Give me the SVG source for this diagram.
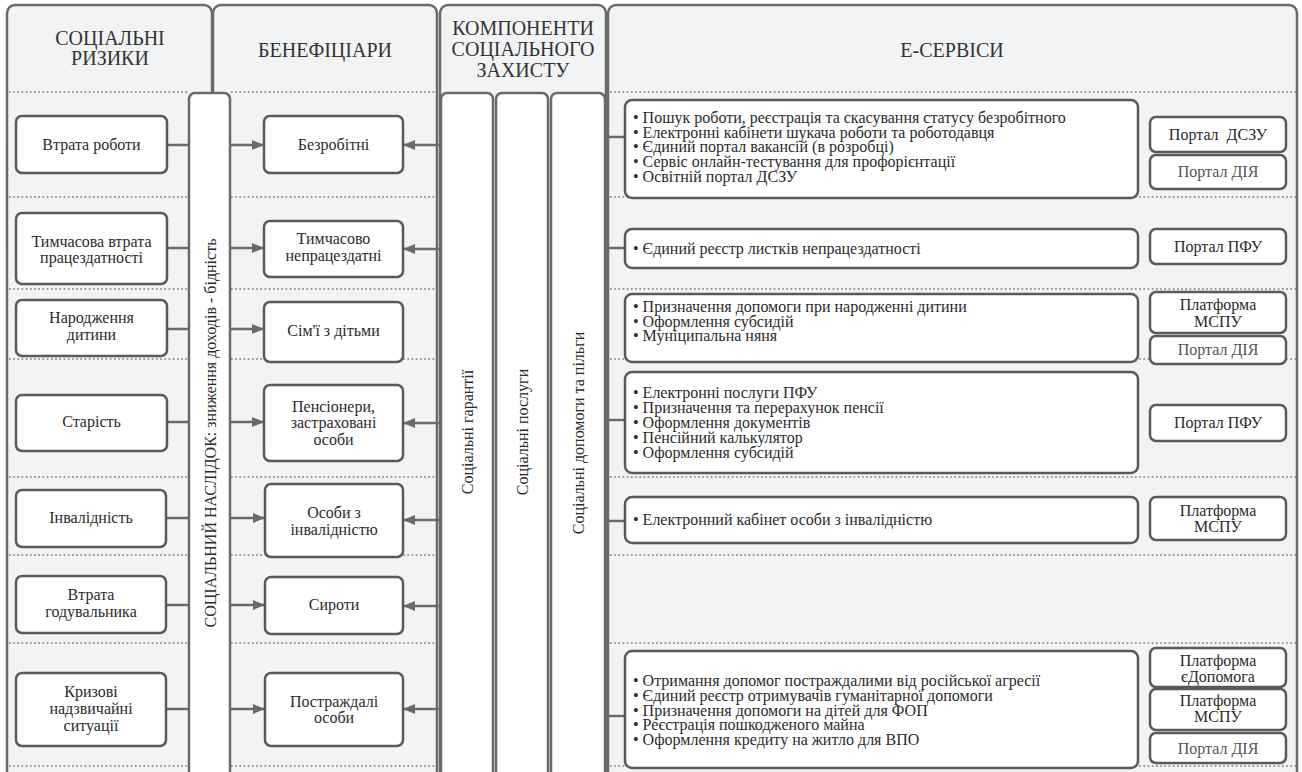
<svg xmlns="http://www.w3.org/2000/svg" width="1302" height="772" viewBox="0 0 1302 772">
<defs>
<style>
.panel{fill:#f2f3f5;stroke:#6a6a6a;stroke-width:2.5}
.box{fill:#ffffff;stroke:#5a5a5a;stroke-width:2.5}
.bar{fill:#ffffff;stroke:#6a6a6a;stroke-width:2.5}
.dot{stroke:#777777;stroke-width:1.6;stroke-dasharray:1.6 2.6;fill:none}
.conn{stroke:#6a6a6a;stroke-width:2.5;fill:none}
text{fill:#2b2b2b}
.h{font-size:20px;text-anchor:middle;fill:#333333}
.t{font-size:16px;text-anchor:middle}
.l{font-size:16px}
.dim{fill:#555555}
</style>
<marker id="arr" viewBox="0 0 12 10" refX="12" refY="5" markerWidth="12" markerHeight="10" markerUnits="userSpaceOnUse" orient="auto">
<path d="M0,0 L12,5 L0,10 z" fill="#6a6a6a"/>
</marker>
</defs>

<g id="panels">
<rect class="panel" x="7" y="5" width="205" height="800" rx="8"/>
<rect class="panel" x="213" y="5" width="224" height="800" rx="8"/>
<rect class="panel" x="440" y="5" width="166" height="800" rx="8"/>
<rect class="panel" x="608" y="5" width="689" height="800" rx="8"/>
</g>

<g id="separators">
<path class="dot" d="M9,92H189M231,92H436M610,92H1296"/>
<path class="dot" d="M9,197H189M231,197H436M610,197H1296"/>
<path class="dot" d="M9,289H189M231,289H436M610,289H1296"/>
<path class="dot" d="M9,359H189M231,359H436M610,359H1296"/>
<path class="dot" d="M9,477H189M231,477H436M610,477H1296"/>
<path class="dot" d="M9,555H189M231,555H436M610,555H1296"/>
<path class="dot" d="M9,643H189M231,643H436M610,643H1296"/>
<path class="dot" d="M9,766H189M231,766H436M610,766H1296"/>
</g>

<g id="connectors">
<line class="conn" x1="167" y1="145" x2="264" y2="145" marker-end="url(#arr)"/>
<line class="conn" x1="167" y1="248" x2="264" y2="248" marker-end="url(#arr)"/>
<line class="conn" x1="167" y1="329" x2="264" y2="329" marker-end="url(#arr)"/>
<line class="conn" x1="167" y1="422" x2="264" y2="422" marker-end="url(#arr)"/>
<line class="conn" x1="166" y1="518" x2="265" y2="518" marker-end="url(#arr)"/>
<line class="conn" x1="166" y1="605" x2="265" y2="605" marker-end="url(#arr)"/>
<line class="conn" x1="166" y1="709" x2="265" y2="709" marker-end="url(#arr)"/>
<line class="conn" x1="440" y1="145" x2="403" y2="145" marker-end="url(#arr)"/>
<line class="conn" x1="440" y1="249" x2="403" y2="249" marker-end="url(#arr)"/>
<line class="conn" x1="440" y1="423" x2="403" y2="423" marker-end="url(#arr)"/>
<line class="conn" x1="440" y1="520" x2="403" y2="520" marker-end="url(#arr)"/>
<line class="conn" x1="440" y1="606" x2="403" y2="606" marker-end="url(#arr)"/>
<line class="conn" x1="440" y1="709" x2="403" y2="709" marker-end="url(#arr)"/>
<line class="conn" x1="606" y1="137" x2="625" y2="137"/>
<line class="conn" x1="606" y1="248" x2="625" y2="248"/>
<line class="conn" x1="606" y1="420" x2="625" y2="420"/>
<line class="conn" x1="606" y1="521" x2="625" y2="521"/>
<line class="conn" x1="606" y1="716" x2="625" y2="716"/>
</g>

<g font-family="Times New Roman, Tinos, FreeSerif, Liberation Serif, serif">
<g id="headers">
<text class="h" x="110" y="45">СОЦІАЛЬНІ</text>
<text class="h" x="110" y="65">РИЗИКИ</text>
<text class="h" x="325" y="57">БЕНЕФІЦІАРИ</text>
<text class="h" x="523" y="35">КОМПОНЕНТИ</text>
<text class="h" x="523" y="56">СОЦІАЛЬНОГО</text>
<text class="h" x="523" y="77">ЗАХИСТУ</text>
<text class="h" x="952" y="57">Е-СЕРВІСИ</text>
</g>

<g id="consequence">
<rect class="bar" x="189" y="93" width="41" height="720" rx="6"/>
<text class="l" transform="translate(215.5,433) rotate(-90)" text-anchor="middle">СОЦІАЛЬНИЙ НАСЛІДОК: зниження доходів - бідність</text>
</g>

<g id="comp-guarantees">
<rect class="bar" x="441" y="93" width="52" height="720" rx="6"/>
<text class="t" transform="translate(472.5,432) rotate(-90)">Соціальні гарантії</text>
</g>
<g id="comp-services">
<rect class="bar" x="496" y="93" width="52" height="720" rx="6"/>
<text class="t" transform="translate(527.5,432) rotate(-90)">Соціальні послуги</text>
</g>
<g id="comp-benefits">
<rect class="bar" x="551" y="93" width="54" height="720" rx="6"/>
<text class="t" transform="translate(583.5,433) rotate(-90)">Соціальні допомоги та пільги</text>
</g>

<g id="risk-1"><rect class="box" x="16" y="116" width="151" height="57" rx="6"/><text class="t" x="91.5" y="150">Втрата роботи</text></g>
<g id="risk-2"><rect class="box" x="16" y="213" width="151" height="71" rx="6"/><text class="t" x="91.5" y="247">Тимчасова втрата</text><text class="t" x="91.5" y="263">працездатності</text></g>
<g id="risk-3"><rect class="box" x="16" y="300" width="151" height="56" rx="6"/><text class="t" x="91.5" y="323">Народження</text><text class="t" x="91.5" y="340">дитини</text></g>
<g id="risk-4"><rect class="box" x="16" y="395" width="151" height="56" rx="6"/><text class="t" x="91.5" y="427">Старість</text></g>
<g id="risk-5"><rect class="box" x="16" y="490" width="150" height="57" rx="6"/><text class="t" x="91" y="523">Інвалідність</text></g>
<g id="risk-6"><rect class="box" x="16" y="576" width="150" height="57" rx="6"/><text class="t" x="91" y="600">Втрата</text><text class="t" x="91" y="617">годувальника</text></g>
<g id="risk-7"><rect class="box" x="16" y="673" width="150" height="73" rx="6"/><text class="t" x="91" y="697">Кризові</text><text class="t" x="91" y="714">надзвичайні</text><text class="t" x="91" y="731">ситуації</text></g>

<g id="ben-1"><rect class="box" x="264" y="116" width="139" height="57" rx="6"/><text class="t" x="333.5" y="150">Безробітні</text></g>
<g id="ben-2"><rect class="box" x="264" y="221" width="139" height="56" rx="6"/><text class="t" x="333.5" y="244">Тимчасово</text><text class="t" x="333.5" y="261">непрацездатні</text></g>
<g id="ben-3"><rect class="box" x="264" y="302" width="139" height="60" rx="6"/><text class="t" x="333.5" y="336">Сім'ї з дітьми</text></g>
<g id="ben-4"><rect class="box" x="264" y="385" width="139" height="76" rx="6"/><text class="t" x="333.5" y="412">Пенсіонери,</text><text class="t" x="333.5" y="428">застраховані</text><text class="t" x="333.5" y="445">особи</text></g>
<g id="ben-5"><rect class="box" x="265" y="484" width="138" height="73" rx="6"/><text class="t" x="334" y="518">Особи з</text><text class="t" x="334" y="535">інвалідністю</text></g>
<g id="ben-6"><rect class="box" x="265" y="577" width="138" height="57" rx="6"/><text class="t" x="334" y="610">Сироти</text></g>
<g id="ben-7"><rect class="box" x="265" y="673" width="138" height="73" rx="6"/><text class="t" x="334" y="707">Постраждалі</text><text class="t" x="334" y="723">особи</text></g>

<g id="es-1"><rect class="box" x="625" y="100" width="513" height="98" rx="7"/>
<text class="l" x="633" y="123">• Пошук роботи, реєстрація та скасування статусу безробітного</text>
<text class="l" x="633" y="137.7">• Електронні кабінети шукача роботи та роботодавця</text>
<text class="l" x="633" y="152.4">• Єдиний портал вакансій (в розробці)</text>
<text class="l" x="633" y="167">• Сервіс онлайн-тестування для профорієнтації</text>
<text class="l" x="633" y="181.8">• Освітній портал ДСЗУ</text></g>
<g id="es-2"><rect class="box" x="625" y="229" width="513" height="39" rx="7"/>
<text class="l" x="633" y="254">• Єдиний реєстр листків непрацездатності</text></g>
<g id="es-3"><rect class="box" x="625" y="294" width="513" height="68" rx="7"/>
<text class="l" x="633" y="312">• Призначення допомоги при народженні дитини</text>
<text class="l" x="633" y="326.5">• Оформлення субсидій</text>
<text class="l" x="633" y="341">• Муніципальна няня</text></g>
<g id="es-4"><rect class="box" x="625" y="372" width="513" height="101" rx="7"/>
<text class="l" x="633" y="398">• Електронні послуги ПФУ</text>
<text class="l" x="633" y="413">• Призначення та перерахунок пенсії</text>
<text class="l" x="633" y="428">• Оформлення документів</text>
<text class="l" x="633" y="443">• Пенсійний калькулятор</text>
<text class="l" x="633" y="458">• Оформлення субсидій</text></g>
<g id="es-5"><rect class="box" x="625" y="497" width="513" height="46" rx="7"/>
<text class="l" x="633" y="525">• Електронний кабінет особи з інвалідністю</text></g>
<g id="es-6"><rect class="box" x="625" y="651" width="513" height="117" rx="7"/>
<text class="l" x="633" y="686">• Отримання допомог постраждалими від російської агресії</text>
<text class="l" x="633" y="701">• Єдиний реєстр отримувачів гуманітарної допомоги</text>
<text class="l" x="633" y="715.5">• Призначення допомоги на дітей для ФОП</text>
<text class="l" x="633" y="730">• Реєстрація пошкодженого майна</text>
<text class="l" x="633" y="745">• Оформлення кредиту на житло для ВПО</text></g>

<g id="portal-dszu"><rect class="box" x="1150" y="117" width="136" height="35" rx="6"/><text class="t" x="1218" y="140">Портал&#160; ДСЗУ</text></g>
<g id="portal-diia-1"><rect class="box" x="1150" y="155" width="136" height="34" rx="6"/><text class="t dim" x="1218" y="177">Портал ДІЯ</text></g>
<g id="portal-pfu-1"><rect class="box" x="1150" y="229" width="136" height="35" rx="6"/><text class="t" x="1218" y="252">Портал ПФУ</text></g>
<g id="platform-mspu-1"><rect class="box" x="1150" y="292" width="136" height="41" rx="6"/><text class="t" x="1218" y="310">Платформа</text><text class="t" x="1218" y="327">МСПУ</text></g>
<g id="portal-diia-2"><rect class="box" x="1150" y="336" width="136" height="28" rx="6"/><text class="t dim" x="1218" y="355">Портал ДІЯ</text></g>
<g id="portal-pfu-2"><rect class="box" x="1150" y="405" width="136" height="36" rx="6"/><text class="t" x="1218" y="428">Портал ПФУ</text></g>
<g id="platform-mspu-2"><rect class="box" x="1150" y="497" width="136" height="43" rx="6"/><text class="t" x="1218" y="516">Платформа</text><text class="t" x="1218" y="532">МСПУ</text></g>
<g id="platform-edopomoga"><rect class="box" x="1150" y="648" width="136" height="39" rx="6"/><text class="t" x="1218" y="666">Платформа</text><text class="t" x="1218" y="682">єДопомога</text></g>
<g id="platform-mspu-3"><rect class="box" x="1150" y="689" width="136" height="41" rx="6"/><text class="t" x="1218" y="706">Платформа</text><text class="t" x="1218" y="722">МСПУ</text></g>
<g id="portal-diia-3"><rect class="box" x="1150" y="733" width="136" height="30" rx="6"/><text class="t dim" x="1218" y="754">Портал ДІЯ</text></g>
</g>
</svg>
